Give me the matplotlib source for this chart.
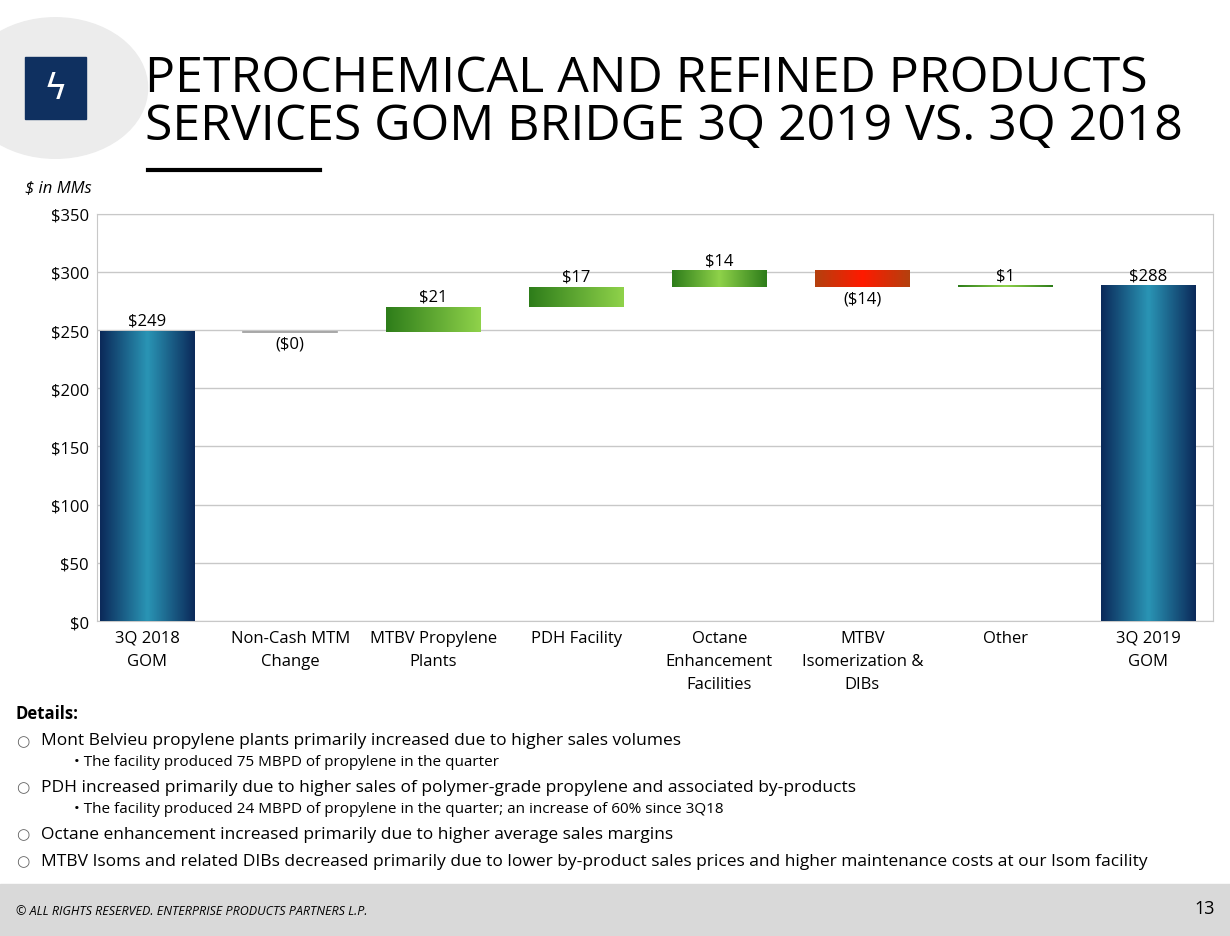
import numpy as np
import matplotlib.pyplot as plt
from matplotlib.colors import LinearSegmentedColormap
from matplotlib.patches import Rectangle, Circle

categories = ["3Q 2018\nGOM", "Non-Cash MTM\nChange", "MTBV Propylene\nPlants", "PDH Facility",
              "Octane\nEnhancement\nFacilities", "MTBV\nIsomerization &\nDIBs", "Other", "3Q 2019\nGOM"]
values = [249, -0.3, 21, 17, 14, -14, 1, 288]
kinds = ["total", "delta", "delta", "delta", "delta", "delta", "delta", "total"]
labels = ["$249", "($0)", "$21", "$17", "$14", "($14)", "$1", "$288"]

fig = plt.figure(figsize=(12.3, 9.37), dpi=100)
ax = fig.add_axes([0.079, 0.336, 0.907, 0.435])

blue = LinearSegmentedColormap.from_list("b", ["#0b2a5a", "#2a95b5", "#0b2a5a"])
green = LinearSegmentedColormap.from_list("g", ["#2e7d1a", "#8fd24a"])
green_sym = LinearSegmentedColormap.from_list("gs", ["#2e7d1a", "#8fd24a", "#2e7d1a"])
red = LinearSegmentedColormap.from_list("r", ["#b4400e", "#ff1a00", "#b4400e"])
grad = np.linspace(0, 1, 100).reshape(1, -1)

w = 0.66
running = 0
for i, (v, k, lab) in enumerate(zip(values, kinds, labels)):
    if k == "total":
        lo, hi = 0, v
        running = v
        cm = blue
    else:
        lo, hi = sorted([running, running + v])
        running += v
        cm = red if v < -1 else (green_sym if i in (4, 6) else green)
    if hi - lo < 0.8:
        ax.plot([i - w / 2, i + w / 2], [lo, lo], color="#6a9a50" if v > 0 else "#999999", lw=1.2, zorder=3)
    else:
        ax.imshow(grad, cmap=cm, aspect="auto", extent=[i - w / 2, i + w / 2, lo, hi], zorder=3)
    if v >= 0:
        ax.text(i, hi + 2, lab, ha="center", va="bottom", fontsize=12, family="Open Sans")
    else:
        ax.text(i, lo - 3, lab, ha="center", va="top", fontsize=12, family="Open Sans")

ax.set_xlim(-0.35, 7.45)
ax.set_ylim(0, 350)
ax.set_yticks(range(0, 351, 50))
ax.set_yticklabels(["${}".format(t) for t in range(0, 351, 50)], fontsize=12, family="Open Sans")
ax.set_xticks(range(8))
ax.set_xticklabels(categories, fontsize=12, family="Open Sans", linespacing=1.6)
ax.tick_params(length=0, pad=6)
ax.grid(axis="y", color="#c8c8c8", lw=1, zorder=0)
ax.set_axisbelow(True)
for s in ax.spines.values():
    s.set_color("#c8c8c8")

# header
fig.patches.append(Circle((0.045, 0.905), 0.075, transform=fig.transFigure, color="#ececec", zorder=0))
fig.patches.append(Rectangle((0.02, 0.872), 0.05, 0.066, transform=fig.transFigure, color="#0f3060"))
fig.text(0.045, 0.905, "ϟ", color="white", fontsize=26, ha="center", va="center")
fig.text(0.118, 0.89, "PETROCHEMICAL AND REFINED PRODUCTS\nSERVICES GOM BRIDGE 3Q 2019 VS. 3Q 2018",
         fontsize=36, family="Open Sans", va="center", linespacing=0.95)
fig.lines.append(plt.Line2D([0.12, 0.26], [0.817, 0.817], transform=fig.transFigure, color="black", lw=3))
fig.text(0.02, 0.795, "$ in MMs", fontsize=12, style="italic", family="Open Sans")

# details
fig.text(0.013, 0.233, "Details:", fontsize=12, weight="bold", family="Open Sans")
rows = [
    (0.209, 0, "Mont Belvieu propylene plants primarily increased due to higher sales volumes"),
    (0.186, 1, "The facility produced 75 MBPD of propylene in the quarter"),
    (0.159, 0, "PDH increased primarily due to higher sales of polymer-grade propylene and associated by-products"),
    (0.136, 1, "The facility produced 24 MBPD of propylene in the quarter; an increase of 60% since 3Q18"),
    (0.109, 0, "Octane enhancement increased primarily due to higher average sales margins"),
    (0.080, 0, "MTBV Isoms and related DIBs decreased primarily due to lower by-product sales prices and higher maintenance costs at our Isom facility"),
]
for y, lvl, t in rows:
    if lvl == 0:
        fig.text(0.013, y, "○", fontsize=11, color="#666666", va="center", family="DejaVu Sans")
        fig.text(0.033, y, t, fontsize=12.5, va="center", family="Open Sans")
    else:
        fig.text(0.06, y, "• " + t, fontsize=11, va="center", family="Open Sans")

fig.patches.append(Rectangle((0, 0), 1, 0.055, transform=fig.transFigure, color="#d9d9d9"))
fig.text(0.013, 0.027, "© ALL RIGHTS RESERVED. ENTERPRISE PRODUCTS PARTNERS L.P.", fontsize=9,
         style="italic", va="center", family="Open Sans")
fig.text(0.988, 0.03, "13", fontsize=13, ha="right", va="center", family="Open Sans")

fig.savefig("out.png", dpi=100)
